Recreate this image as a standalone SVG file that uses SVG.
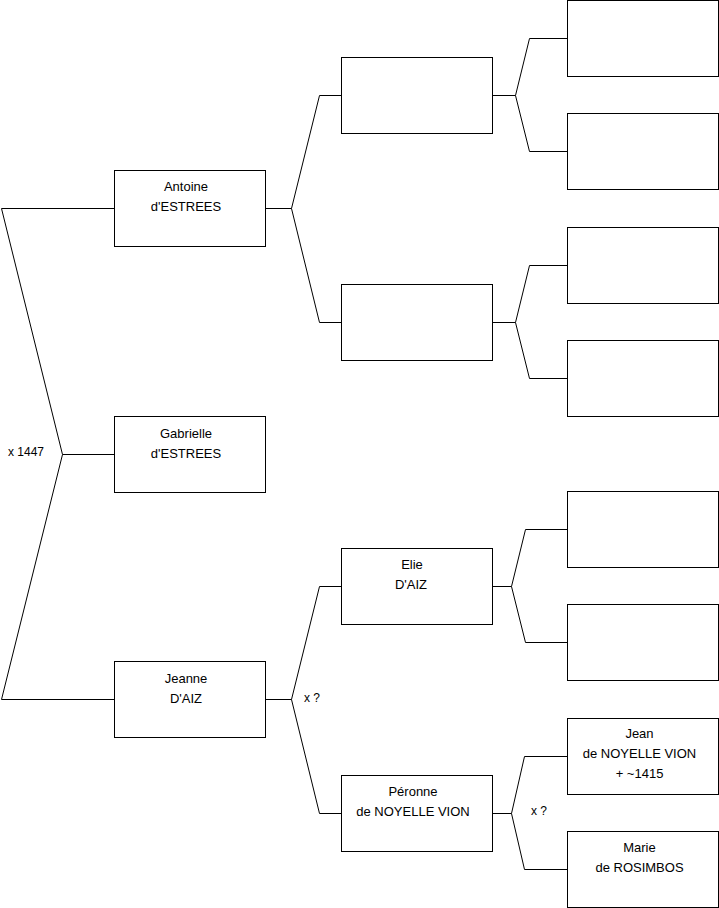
<svg xmlns="http://www.w3.org/2000/svg" width="719" height="908" viewBox="0 0 719 908">
<style>
rect{fill:#fff;stroke:#000;stroke-width:1}
path{fill:none;stroke:#000;stroke-width:1}
text{font-family:"Liberation Sans",Arial,sans-serif;font-size:12px;fill:#000}
.c{text-anchor:middle;font-size:13px}
</style>
<rect x="0" y="0" width="719" height="908" style="stroke:none"/>
<g id="connectors">
<path d="M1.5,208.5 H114 M1.5,208.5 L62.5,454.5 L1.5,699.5 H114 M62.5,454.5 H114"/>
<path d="M265,208.5 H291.5 L319.5,95.5 H341 M291.5,208.5 L319.5,322.5 H341"/>
<path d="M265,699.5 H291.5 L319.5,586.5 H341 M291.5,699.5 L319.5,813.5 H341"/>
<path d="M492,95.5 H515.5 L529.5,38.5 H567 M515.5,95.5 L529.5,151.5 H567"/>
<path d="M492,322.5 H515.5 L529.5,265.5 H567 M515.5,322.5 L529.5,378.5 H567"/>
<path d="M492,586.5 H511.5 L525.5,529.5 H567 M511.5,586.5 L525.5,642.5 H567"/>
<path d="M492,813.5 H511.5 L524.5,756.5 H567 M511.5,813.5 L524.5,869.5 H567"/>
<text x="8" y="456">x 1447</text>
<text x="304" y="702">x ?</text>
<text x="531" y="815">x ?</text>
</g>
<g id="antoine"><rect x="114.5" y="170.5" width="151" height="76"/><text class="c" x="186" y="191">Antoine</text><text class="c" x="186" y="211">d'ESTREES</text></g>
<g id="gabrielle"><rect x="114.5" y="416.5" width="151" height="76"/><text class="c" x="186" y="438">Gabrielle</text><text class="c" x="186" y="458">d'ESTREES</text></g>
<g id="jeanne"><rect x="114.5" y="661.5" width="151" height="76"/><text class="c" x="186" y="683">Jeanne</text><text class="c" x="186" y="703">D'AIZ</text></g>
<g id="p2a"><rect x="341.5" y="57.5" width="151" height="76"/></g>
<g id="p2b"><rect x="341.5" y="284.5" width="151" height="76"/></g>
<g id="elie"><rect x="341.5" y="548.5" width="151" height="76"/><text class="c" x="412" y="569">Elie</text><text class="c" x="411" y="589">D'AIZ</text></g>
<g id="peronne"><rect x="341.5" y="775.5" width="151" height="76"/><text class="c" x="413" y="796">Péronne</text><text class="c" x="413" y="816">de NOYELLE VION</text></g>
<g id="p3a"><rect x="567.5" y="0.5" width="151" height="76"/></g>
<g id="p3b"><rect x="567.5" y="113.5" width="151" height="76"/></g>
<g id="p3c"><rect x="567.5" y="227.5" width="151" height="76"/></g>
<g id="p3d"><rect x="567.5" y="340.5" width="151" height="76"/></g>
<g id="p3e"><rect x="567.5" y="491.5" width="151" height="76"/></g>
<g id="p3f"><rect x="567.5" y="604.5" width="151" height="76"/></g>
<g id="jean"><rect x="567.5" y="718.5" width="151" height="76"/><text class="c" x="639.5" y="738">Jean</text><text class="c" x="639.5" y="758">de NOYELLE VION</text><text class="c" x="639.5" y="778">+ ~1415</text></g>
<g id="marie"><rect x="567.5" y="831.5" width="151" height="76"/><text class="c" x="639.5" y="852">Marie</text><text class="c" x="639.5" y="872">de ROSIMBOS</text></g>
</svg>
